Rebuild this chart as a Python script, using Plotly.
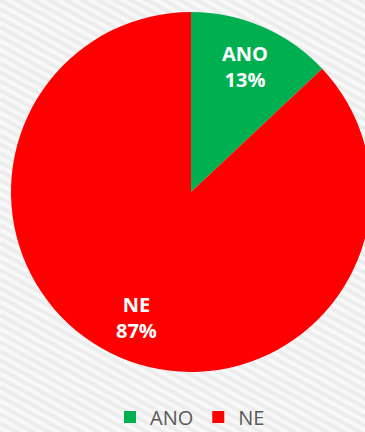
import math
import plotly.graph_objects as go

# Survey answers and their shares (percent)
labels = ["ANO", "NE"]
values = [13, 87]
colors = ["#00b050", "#ff0000"]

# Figure is a little larger than the window; the overflow is hidden
W, H = 372, 450
PIE_X = [11 / W, 371 / W]
PIE_Y = [(H - 372) / H, (H - 12) / H]
R_PX = 180          # pie radius in pixels (from the domain)
LABEL_R = 0.76      # data labels sit at this fraction of the radius

# Light diagonal stripe texture for the background
stripes = []
for k in range(-30, 80):
    y0 = k * 9
    stripes.append(dict(
        type="line", xref="paper", yref="paper", layer="below",
        x0=0, x1=1, y0=1 - y0 / H, y1=1 - (y0 + 0.55 * W) / H,
        line=dict(color="#ededed", width=4),
    ))

fig = go.Figure(go.Pie(
    labels=labels,
    values=values,
    marker=dict(colors=colors),
    sort=False,
    direction="clockwise",
    rotation=0,
    textinfo="none",
    domain=dict(x=PIE_X, y=PIE_Y),
    hoverinfo="skip",
))

# Data labels placed on each slice's bisector
total = sum(values)
cx = (PIE_X[0] + PIE_X[1]) / 2
cy = (PIE_Y[0] + PIE_Y[1]) / 2
annotations = []
cum = 0
for lab, v in zip(labels, values):
    mid = (cum + v / 2) / total * 2 * math.pi
    cum += v
    annotations.append(dict(
        xref="paper", yref="paper",
        x=cx + LABEL_R * R_PX * math.sin(mid) / W,
        y=cy + LABEL_R * R_PX * math.cos(mid) / H,
        xanchor="center", yanchor="middle",
        text=f"{lab}<br>{round(100 * v / total)}%",
        showarrow=False, align="center",
        font=dict(family="Open Sans", size=20, color="white", weight="bold"),
    ))

fig.update_layout(
    width=W, height=H,
    margin=dict(l=0, r=0, t=0, b=0),
    paper_bgcolor="#f8f8f8",
    plot_bgcolor="#f8f8f8",
    shapes=stripes,
    annotations=annotations,
    showlegend=True,
    legend=dict(
        orientation="h", x=190 / W, xanchor="center",
        y=(H - 417) / H, yanchor="middle",
        font=dict(family="Open Sans", size=20, color="#595959"),
        bgcolor="rgba(0,0,0,0)",
        itemwidth=30,
    ),
)

fig.write_html(
    "out.html",
    post_script="document.body.style.overflow='hidden';"
                "document.documentElement.style.overflow='hidden';",
)
